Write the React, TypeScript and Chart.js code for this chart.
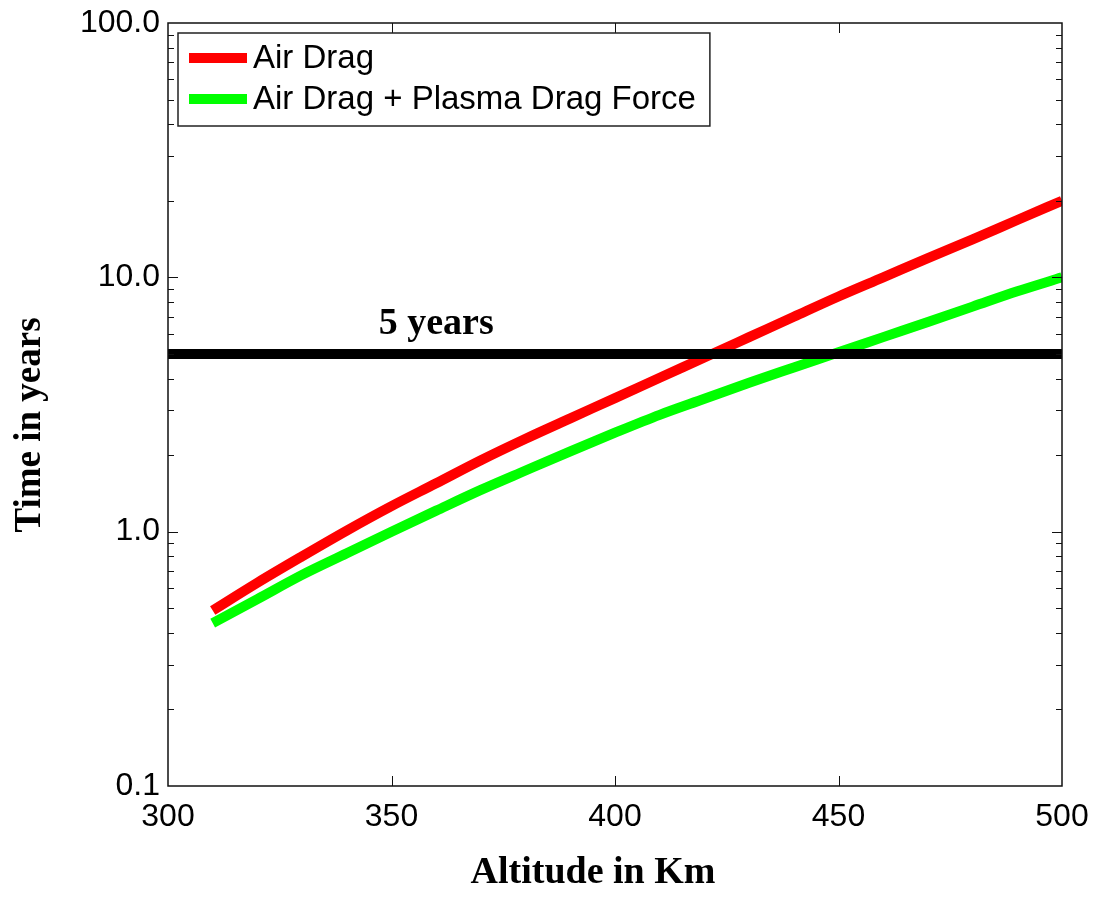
import React, { useEffect, useRef } from "react";
import { Chart, registerables } from "chart.js";

Chart.register(...registerables);

const altitudes = [310, 320, 330, 340, 350, 360, 370, 380, 390, 400, 410, 420, 430, 440, 450, 460, 470, 480, 490, 500];
const airDrag = [0.49, 0.63, 0.8, 1.01, 1.26, 1.55, 1.91, 2.32, 2.79, 3.35, 4.03, 4.84, 5.82, 7.0, 8.41, 10.0, 11.9, 14.1, 16.8, 20.0];
const airPlasmaDrag = [0.437, 0.543, 0.676, 0.822, 1.0, 1.21, 1.46, 1.74, 2.07, 2.45, 2.88, 3.33, 3.85, 4.42, 5.07, 5.82, 6.68, 7.67, 8.81, 10.0];
const thresholdX = [300, 500];
const thresholdY = [5, 5];
const thresholdLabel = "5 years";
const thresholdLabelX = 360;

const seriesLabels = ["Air Drag", "Air Drag + Plasma Drag Force"];
const yTickValues = [0.1, 1, 10, 100];
const xTickMinor = [350, 400, 450];
const xTitle = "Altitude in Km";
const yTitle = "Time in years";

const SANS = '"Liberation Sans", Arial, sans-serif';
const SERIF = '"Liberation Serif", "Times New Roman", serif';

const framePlugin = {
  id: "frame",
  afterDraw(chart: any) {
    const { ctx, chartArea: a, scales } = chart;
    const xs = scales.x;
    const ys = scales.y;
    ctx.save();
    // box
    ctx.strokeStyle = "#111";
    ctx.lineWidth = 1.5;
    ctx.strokeRect(a.left, a.top, a.right - a.left, a.bottom - a.top);
    // x ticks (inward, bottom and top)
    ctx.lineWidth = 1;
    ctx.beginPath();
    for (const v of xTickMinor) {
      const px = Math.round(xs.getPixelForValue(v)) + 0.5;
      ctx.moveTo(px, a.bottom);
      ctx.lineTo(px, a.bottom - 10);
      ctx.moveTo(px, a.top);
      ctx.lineTo(px, a.top + 10);
    }
    // y ticks (log, inward, left and right)
    for (const d of [0.1, 1, 10]) {
      for (let m = 1; m <= 9; m++) {
        const v = d * m;
        if (v <= 0.1 + 1e-9 || v >= 100 - 1e-9) continue;
        const py = Math.round(ys.getPixelForValue(v)) + 0.5;
        const len = m === 1 ? 10 : 6;
        ctx.moveTo(a.left, py);
        ctx.lineTo(a.left + len, py);
        ctx.moveTo(a.right, py);
        ctx.lineTo(a.right - len, py);
      }
    }
    ctx.stroke();

    // legend
    const ds = chart.data.datasets.filter((d: any) => !d.hideInLegend);
    ctx.font = `33px ${SANS}`;
    let maxW = 0;
    ds.forEach((d: any) => { maxW = Math.max(maxW, ctx.measureText(d.label).width); });
    const lx = a.left + 10;
    const ly = a.top + 10;
    const lw = 75 + maxW + 14;
    const lh = 93;
    ctx.fillStyle = "#fff";
    ctx.fillRect(lx, ly, lw, lh);
    ctx.strokeStyle = "#222";
    ctx.lineWidth = 1.5;
    ctx.strokeRect(lx, ly, lw, lh);
    ds.forEach((d: any, i: number) => {
      const cy = ly + 25 + i * 41;
      ctx.strokeStyle = d.borderColor;
      ctx.lineWidth = 10;
      ctx.lineCap = "butt";
      ctx.beginPath();
      ctx.moveTo(lx + 11, cy);
      ctx.lineTo(lx + 69, cy);
      ctx.stroke();
      ctx.fillStyle = "#000";
      ctx.textAlign = "left";
      ctx.textBaseline = "middle";
      ctx.fillText(d.label, lx + 75, cy + 1);
    });

    // annotation
    ctx.fillStyle = "#000";
    ctx.font = `bold 38px ${SERIF}`;
    ctx.textAlign = "center";
    ctx.textBaseline = "alphabetic";
    ctx.fillText(thresholdLabel, xs.getPixelForValue(thresholdLabelX), ys.getPixelForValue(thresholdY[0]) - 20);

    // axis titles
    ctx.font = `bold 38px ${SERIF}`;
    ctx.textBaseline = "alphabetic";
    ctx.fillText(xTitle, 593, 883);
    ctx.save();
    ctx.translate(40, 425);
    ctx.rotate(-Math.PI / 2);
    ctx.font = `bold 37px ${SERIF}`;
    ctx.textBaseline = "alphabetic";
    ctx.fillText(yTitle, 0, 0);
    ctx.restore();
    ctx.restore();
  },
};

export default function App() {
  const ref = useRef<HTMLCanvasElement | null>(null);
  useEffect(() => {
    if (!ref.current) return;
    const chart = new Chart(ref.current, {
      type: "line",
      data: {
        datasets: [
          {
            label: "threshold",
            hideInLegend: true,
            data: thresholdX.map((x, i) => ({ x, y: thresholdY[i] })),
            borderColor: "#000",
            borderWidth: 10,
            pointRadius: 0,
            order: 0,
          } as any,
          {
            label: seriesLabels[0],
            data: altitudes.map((x, i) => ({ x, y: airDrag[i] })),
            borderColor: "#ff0000",
            borderWidth: 10,
            pointRadius: 0,
            cubicInterpolationMode: "monotone",
            borderCapStyle: "butt",
            order: 1,
          },
          {
            label: seriesLabels[1],
            data: altitudes.map((x, i) => ({ x, y: airPlasmaDrag[i] })),
            borderColor: "#00ff00",
            borderWidth: 10,
            pointRadius: 0,
            cubicInterpolationMode: "monotone",
            borderCapStyle: "butt",
            order: 2,
          },
        ],
      },
      options: {
        animation: false,
        responsive: false,
        layout: { padding: { top: 23, right: 33, left: 0, bottom: 0 } },
        plugins: { legend: { display: false }, tooltip: { enabled: false } },
        scales: {
          x: {
            type: "linear",
            min: 300,
            max: 500,
            grid: { display: false, drawTicks: false },
            border: { display: false },
            ticks: {
              stepSize: 50,
              autoSkip: false,
              maxRotation: 0,
              padding: 12,
              color: "#000",
              font: { family: SANS, size: 32 },
              callback: (v: any) => String(v),
            },
            afterFit: (axis: any) => {
              axis.height = 113;
              axis.paddingLeft = 0;
              axis.paddingRight = 0;
            },
          },
          y: {
            type: "logarithmic",
            min: 0.1,
            max: 100,
            grid: { display: false, drawTicks: false },
            border: { display: false },
            afterBuildTicks: (axis: any) => { axis.ticks = yTickValues.map((v) => ({ value: v })); },
            ticks: {
              autoSkip: false,
              padding: 8,
              color: "#000",
              font: { family: SANS, size: 32 },
              callback: (v: any) => Number(v).toFixed(1),
            },
            afterFit: (axis: any) => {
              axis.width = 168;
              axis.paddingTop = 0;
              axis.paddingBottom = 0;
            },
          },
        },
      },
      plugins: [framePlugin],
    });
    return () => chart.destroy();
  }, []);
  return (
    <div style={{ position: "absolute", left: 0, top: 0, width: 1095, height: 899, background: "#fff" }}>
      <canvas ref={ref} width={1095} height={899} />
    </div>
  );
}
